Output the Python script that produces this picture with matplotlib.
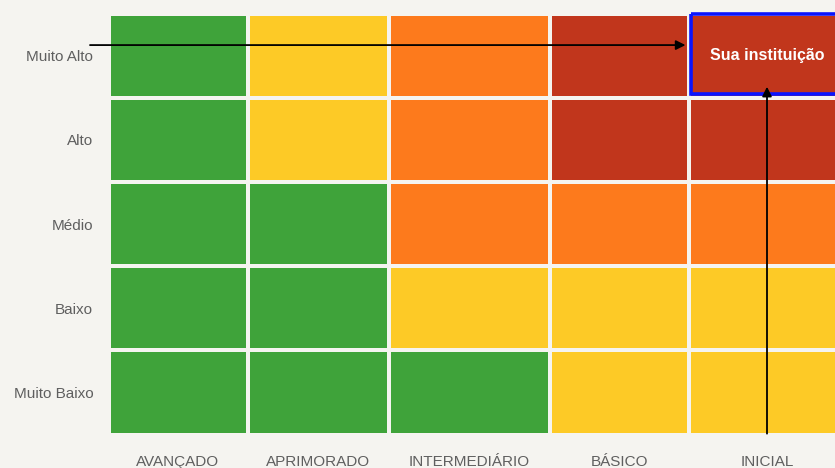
import numpy as np
import matplotlib
matplotlib.use("Agg")
import matplotlib.pyplot as plt
from matplotlib.colors import ListedColormap, BoundaryNorm
from matplotlib.patches import Rectangle

# ---- data ----
rows = ["Muito Alto", "Alto", "Médio", "Baixo", "Muito Baixo"]
cols = ["AVANÇADO", "APRIMORADO", "INTERMEDIÁRIO", "BÁSICO", "INICIAL"]
# 1 = verde, 2 = amarelo, 3 = laranja, 4 = vermelho
levels = [
    [1, 2, 3, 4, 4],
    [1, 2, 3, 4, 4],
    [1, 1, 3, 3, 3],
    [1, 1, 2, 2, 2],
    [1, 1, 1, 2, 2],
]
highlight_row = "Muito Alto"
highlight_col = "INICIAL"
highlight_label = "Sua instituição"

# ---- layout / style ----
col_widths = [139, 141.5, 160.5, 139, 157]   # relative column widths
colors = ["#3fa33a", "#fdca26", "#fd7a1c", "#c1361c"]
bg = "#f5f4f0"

W, H = 835, 468
fig = plt.figure(figsize=(W / 100, H / 100), dpi=100, facecolor=bg)
ax_left, ax_top, ax_bottom = 108.5, 13.5, 434.5
ax = fig.add_axes([ax_left / W, 1 - ax_bottom / H, 1 - ax_left / W, (ax_bottom - ax_top) / H])
ax.set_facecolor(bg)

xedges = np.concatenate([[0], np.cumsum(col_widths)])
yedges = np.arange(len(rows) + 1)
cmap = ListedColormap(colors)
norm = BoundaryNorm([0.5, 1.5, 2.5, 3.5, 4.5], cmap.N)
ax.pcolormesh(xedges, yedges, np.array(levels), cmap=cmap, norm=norm,
              edgecolors=bg, linewidth=1.6)

ax.set_xlim(0, W - ax_left)
ax.set_ylim(len(rows), 0)

xc = (xedges[:-1] + xedges[1:]) / 2
yc = yedges[:-1] + 0.5
ax.set_xticks(xc)
ax.set_xticklabels(cols)
ax.set_yticks(yc)
ax.set_yticklabels(rows)
ax.tick_params(length=0, labelsize=11, labelcolor="#5f5f5f", pad=0)
ax.tick_params(axis="y", pad=11)
ax.tick_params(axis="x", pad=15)
for lab in ax.get_xticklabels() + ax.get_yticklabels():
    lab.set_fontfamily("Liberation Sans")
for s in ax.spines.values():
    s.set_visible(False)

# highlight box
ci = cols.index(highlight_col)
ri = rows.index(highlight_row)
x0 = xedges[ci] + 2.5
rect = Rectangle((x0, ri + 0.01), col_widths[ci] - 5, 0.95, fill=False,
                 edgecolor="#0a14ff", linewidth=2.6, clip_on=False, zorder=3)
ax.add_patch(rect)
ax.text(xc[ci], ri + 0.5, highlight_label, color="white", fontsize=11.5,
        fontweight="bold", family="Liberation Sans", ha="center", va="center", zorder=4)

# arrows
ax.annotate("", xy=(xedges[ci] - 3, ri + 0.375), xytext=(-18.5, ri + 0.375),
            arrowprops=dict(arrowstyle="-|>", color="black", lw=1.3, mutation_scale=14,
                            shrinkA=0, shrinkB=0),
            annotation_clip=False, zorder=5)
ax.annotate("", xy=(xc[ci], ri + 0.87), xytext=(xc[ci], len(rows) - 0.01),
            arrowprops=dict(arrowstyle="-|>", color="black", lw=1.3, mutation_scale=14,
                            shrinkA=0, shrinkB=0),
            annotation_clip=False, zorder=5)

fig.savefig("out.png", dpi=100, facecolor=bg)
